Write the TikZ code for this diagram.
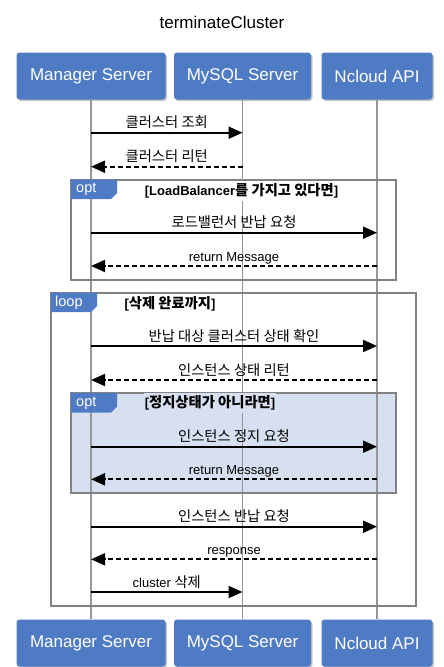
\documentclass[tikz,border=0pt]{standalone}
\usepackage{fontspec}
\setmainfont{Liberation Sans}
\newfontfamily\krfont[Scale=1.1]{Noto Sans CJK KR}
\newcommand{\kr}[1]{{\krfont #1}}
\usetikzlibrary{arrows.meta, shadows}
\definecolor{actorblue}{RGB}{79,123,197}
\definecolor{optblue}{RGB}{215,224,240}
\definecolor{lifegray}{RGB}{150,150,150}
\definecolor{framegray}{RGB}{130,130,130}
\tikzset{
  actor/.style={fill=actorblue, rounded corners=3pt, minimum height=47pt, inner sep=0pt,
    text=white, font=\fontsize{17}{20}\selectfont,
    drop shadow={shadow xshift=1.5pt, shadow yshift=-1.5pt, opacity=0.45}},
  lifeline/.style={draw=lifegray, line width=1.6pt},
  frame/.style={draw=framegray, line width=2pt},
  tab/.style={fill=actorblue},
  tabtext/.style={text=white, font=\fontsize{14.5}{16}\selectfont, anchor=west, inner sep=0pt},
  guard/.style={font=\bfseries\fontsize{13}{15}\selectfont, inner xsep=1pt, inner ysep=3pt},
  msg/.style={line width=2pt, -{Triangle[length=14pt,width=12pt]}},
  reply/.style={msg, dash pattern=on 5pt off 3pt},
  lbl/.style={anchor=base, yshift=5pt, font=\fontsize{13}{15}\selectfont, inner sep=0pt},
}

\begin{document}
\begin{tikzpicture}[x=1pt, y=-1pt]
		\useasboundingbox (0,0) rectangle (444,667);
		\node (title) at (222,22) {\fontsize{17}{20}\selectfont terminateCluster};
		% participants
		\node[actor, minimum width=149pt] (mgr) at (91,76) {Manager Server};
		\node[actor, minimum width=137pt] (db) at (242.5,76) {MySQL Server};
		\node[actor, minimum width=111pt] (api) at (377,76) {Ncloud API};
		\node[actor, minimum width=149pt] (mgrB) at (91,643) {Manager Server};
		\node[actor, minimum width=137pt] (dbB) at (242.5,643) {MySQL Server};
		\node[actor, minimum width=111pt] (apiB) at (377,643) {Ncloud API};
		% inner opt background
		\fill[optblue] (71,393) rectangle (396,492.5);
		\draw[lifeline] (mgr.south) -- (mgrB.north);
		\draw[lifeline] (db.south) -- (dbB.north);
		\draw[lifeline] (api.south) -- (apiB.north);
		% frames
		\draw[frame] (71,179.5) rectangle (396,279.5);
		\draw[frame] (51,292.5) rectangle (416,605.5);
		\draw[frame] (71,393) rectangle (396,492.5);
		\fill[tab] (71,179.5) -- (117,179.5) -- (117,193) -- (111,199) -- (71,199) -- cycle;
		\node[tabtext] (optA) at (76,189.5) {opt};
		\fill[tab] (51,292.5) -- (97,292.5) -- (97,306) -- (91,312) -- (51,312) -- cycle;
		\node[tabtext] (loopA) at (55,302.5) {loop};
		\fill[tab] (71,393) -- (117,393) -- (117,406.5) -- (111,412.5) -- (71,412.5) -- cycle;
		\node[tabtext] (optB) at (76,403) {opt};
		\node[guard, fill=white] (gA) at (241.5,191) {[LoadBalancer\kr{를 가지고 있다면}]};
		\node[guard] (gB) at (170,304) {[\kr{삭제 완료까지}]};
		\node[guard, fill=optblue] (gC) at (210,403) {[\kr{정지상태가 아니라면}]};
		% messages
		\draw[msg] (mgr |- 0,132.7) -- (db |- 0,132.7) node[lbl, midway] {\kr{클러스터 조회}};
		\draw[reply] (db |- 0,166.7) -- (mgr |- 0,166.7) node[lbl, midway] {\kr{클러스터 리턴}};
		\draw[msg] (mgr |- 0,232.7) -- (api |- 0,232.7) node[lbl, midway] {\kr{로드밸런서 반납 요청}};
		\draw[reply] (api |- 0,266) -- (mgr |- 0,266) node[lbl, midway] {return Message};
		\draw[msg] (mgr |- 0,346) -- (api |- 0,346) node[lbl, midway] {\kr{반납 대상 클러스터 상태 확인}};
		\draw[reply] (api |- 0,380) -- (mgr |- 0,380) node[lbl, midway] {\kr{인스턴스 상태 리턴}};
		\draw[msg] (mgr |- 0,446.7) -- (api |- 0,446.7) node[lbl, midway] {\kr{인스턴스 정지 요청}};
		\draw[reply] (api |- 0,479.3) -- (mgr |- 0,479.3) node[lbl, midway] {return Message};
		\draw[msg] (mgr |- 0,526.7) -- (api |- 0,526.7) node[lbl, midway] {\kr{인스턴스 반납 요청}};
		\draw[reply] (api |- 0,559.3) -- (mgr |- 0,559.3) node[lbl, midway] {response};
		\draw[msg] (mgr |- 0,592) -- (db |- 0,592) node[lbl, midway] {cluster \kr{삭제}};
\end{tikzpicture}
\end{document}
